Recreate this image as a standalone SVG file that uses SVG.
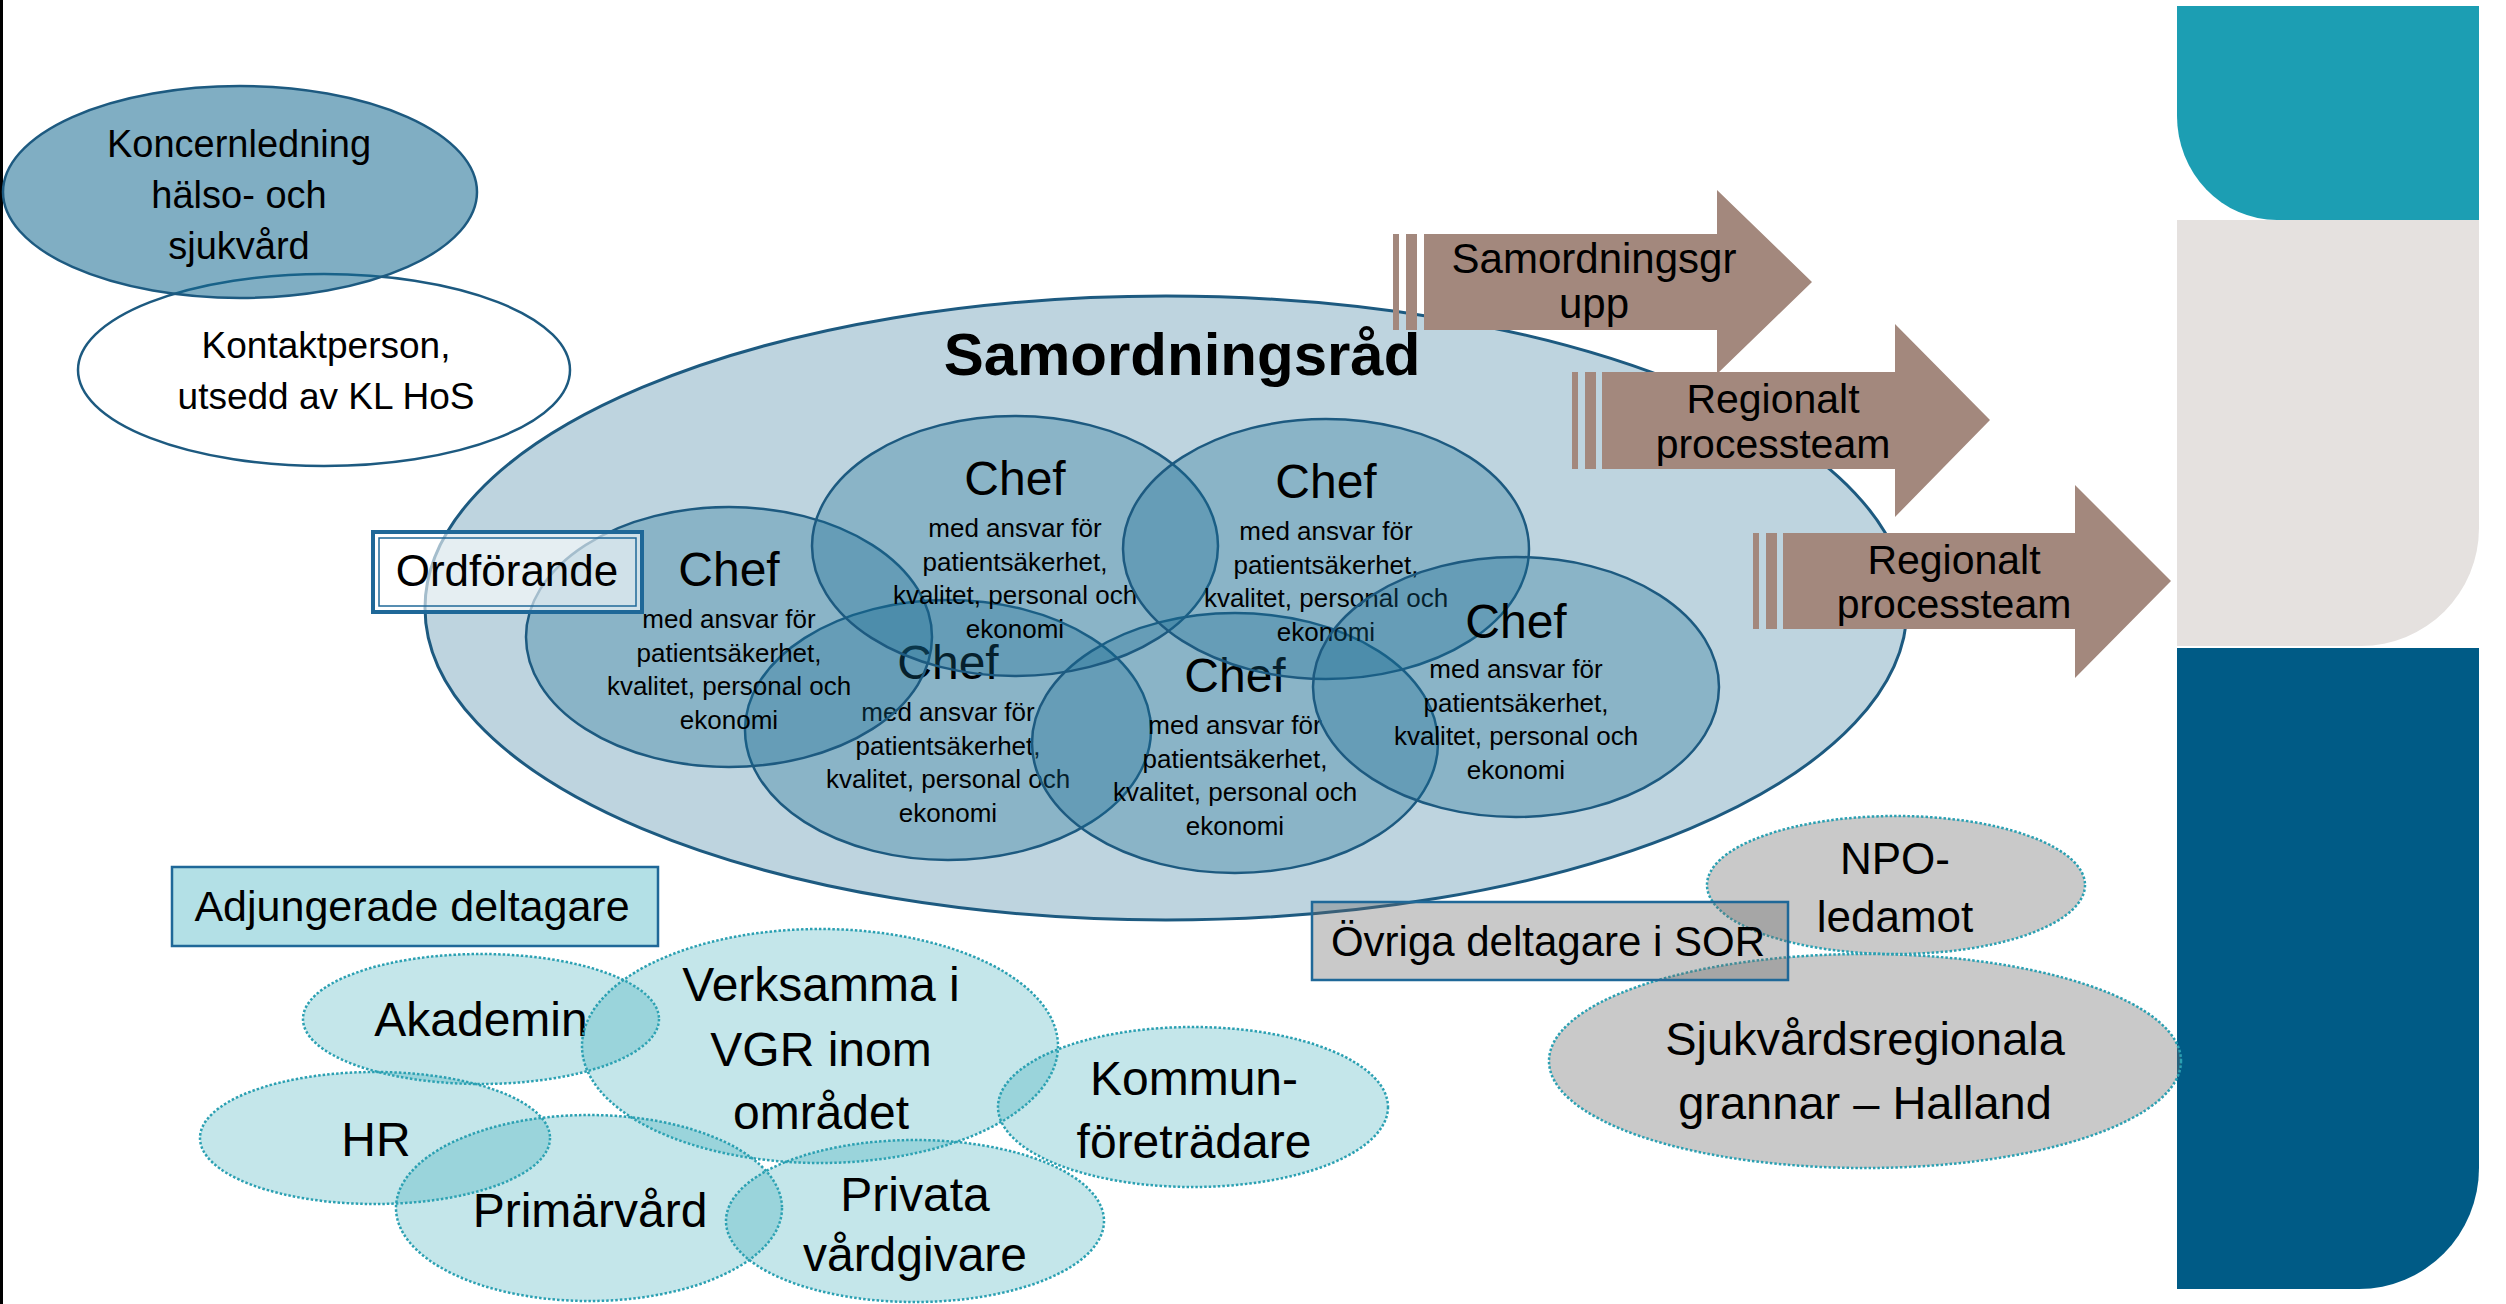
<svg xmlns="http://www.w3.org/2000/svg" width="2506" height="1304" viewBox="0 0 2506 1304">
<style>
.t{font-family:"Liberation Sans",Arial,sans-serif;fill:#000;text-anchor:middle}
.b{font-weight:bold}
.chef{fill:rgb(20,105,145);fill-opacity:.3;stroke:#1D5A80;stroke-width:2.5}
.adj{fill:#32AAB5;fill-opacity:.29;stroke:#2BA0B2;stroke-width:2.5;stroke-dasharray:2.5 2}
.gry{fill:#686868;fill-opacity:.36;stroke:#2BA0B2;stroke-width:2.5;stroke-dasharray:2.5 2}
.arr{fill:#A3887D}
.s26{font-size:26px}
.s48{font-size:48px}
</style>
<rect x="0" y="0" width="2506" height="1304" fill="#fff"/>
<rect x="0" y="0" width="3" height="1304" fill="#000"/>

<g id="side-panel">
<path d="M2177 6 H2479 V220 H2277 A100 104 0 0 1 2177 116 Z" fill="#1C9EB3"/>
<path d="M2177 220 H2479 V528 A118 118 0 0 1 2361 646 H2177 Z" fill="#E5E1DF"/>
<path d="M2177 648 H2479 V1168 A120 121 0 0 1 2359 1289 H2177 Z" fill="#005B86"/>
</g>

<g id="kontaktperson">
<ellipse cx="324" cy="370" rx="246" ry="96" fill="#fff" stroke="#1D5A80" stroke-width="2.5"/>
<text class="t" x="326" y="358" font-size="37">Kontaktperson,</text>
<text class="t" x="326" y="409" font-size="37">utsedd av KL HoS</text>
</g>

<g id="koncernledning">
<ellipse cx="240" cy="192" rx="237" ry="106" fill="rgb(20,105,145)" fill-opacity=".54" stroke="#1D5A80" stroke-width="2.5"/>
<text class="t" x="239" y="157" font-size="38">Koncernledning</text>
<text class="t" x="239" y="208" font-size="38">hälso- och</text>
<text class="t" x="239" y="259" font-size="38">sjukvård</text>
</g>

<g id="samordningsrad">
<ellipse cx="1166" cy="608" rx="741" ry="312" fill="#BED4DF" stroke="#1D5A80" stroke-width="3"/>
<text class="t b" x="1182" y="375" font-size="60">Samordningsråd</text>
</g>

<g id="chef-4">
<ellipse class="chef" cx="948" cy="730" rx="203" ry="130"/>
<text class="t s48" x="948" y="679">Chef</text>
<text class="t s26" x="948" y="721">med ansvar för</text>
<text class="t s26" x="948" y="755">patientsäkerhet,</text>
<text class="t s26" x="948" y="788">kvalitet, personal och</text>
<text class="t s26" x="948" y="822">ekonomi</text>
</g>
<g id="chef-5">
<ellipse class="chef" cx="1235" cy="743" rx="203" ry="130"/>
<text class="t s48" x="1235" y="692">Chef</text>
<text class="t s26" x="1235" y="734">med ansvar för</text>
<text class="t s26" x="1235" y="768">patientsäkerhet,</text>
<text class="t s26" x="1235" y="801">kvalitet, personal och</text>
<text class="t s26" x="1235" y="835">ekonomi</text>
</g>
<g id="chef-1">
<ellipse class="chef" cx="729" cy="637" rx="203" ry="130"/>
<text class="t s48" x="729" y="586">Chef</text>
<text class="t s26" x="729" y="628">med ansvar för</text>
<text class="t s26" x="729" y="662">patientsäkerhet,</text>
<text class="t s26" x="729" y="695">kvalitet, personal och</text>
<text class="t s26" x="729" y="729">ekonomi</text>
</g>
<g id="chef-2">
<ellipse class="chef" cx="1015" cy="546" rx="203" ry="130"/>
<text class="t s48" x="1015" y="495">Chef</text>
<text class="t s26" x="1015" y="537">med ansvar för</text>
<text class="t s26" x="1015" y="571">patientsäkerhet,</text>
<text class="t s26" x="1015" y="604">kvalitet, personal och</text>
<text class="t s26" x="1015" y="638">ekonomi</text>
</g>
<g id="chef-3">
<ellipse class="chef" cx="1326" cy="549" rx="203" ry="130"/>
<text class="t s48" x="1326" y="498">Chef</text>
<text class="t s26" x="1326" y="540">med ansvar för</text>
<text class="t s26" x="1326" y="574">patientsäkerhet,</text>
<text class="t s26" x="1326" y="607">kvalitet, personal och</text>
<text class="t s26" x="1326" y="641">ekonomi</text>
</g>
<g id="chef-6">
<ellipse class="chef" cx="1516" cy="687" rx="203" ry="130"/>
<text class="t s48" x="1516" y="638">Chef</text>
<text class="t s26" x="1516" y="678">med ansvar för</text>
<text class="t s26" x="1516" y="712">patientsäkerhet,</text>
<text class="t s26" x="1516" y="745">kvalitet, personal och</text>
<text class="t s26" x="1516" y="779">ekonomi</text>
</g>

<g id="ordforande">
<rect x="373" y="532" width="269" height="80" fill="#fff" fill-opacity=".6" stroke="#1F6898" stroke-width="4"/>
<rect x="379" y="538" width="257" height="68" fill="none" stroke="#1F6898" stroke-width="1.5"/>
<text class="t" x="507" y="586" font-size="44">Ordförande</text>
</g>

<g id="arrow-samordningsgrupp">
<rect class="arr" x="1393" y="234" width="6" height="96"/>
<rect class="arr" x="1406" y="234" width="11" height="96"/>
<path class="arr" d="M1424 234 H1717 V190 L1812 282 L1717 374 V330 H1424 Z"/>
<text class="t" x="1594" y="273" font-size="42">Samordningsgr</text>
<text class="t" x="1594" y="318" font-size="42">upp</text>
</g>
<g id="arrow-processteam-1">
<rect class="arr" x="1572" y="372" width="6" height="97"/>
<rect class="arr" x="1585" y="372" width="11" height="97"/>
<path class="arr" d="M1602 372 H1895 V324 L1990 420 L1895 517 V469 H1602 Z"/>
<text class="t" x="1773" y="413" font-size="41">Regionalt</text>
<text class="t" x="1773" y="458" font-size="41">processteam</text>
</g>
<g id="arrow-processteam-2">
<rect class="arr" x="1753" y="533" width="6" height="96"/>
<rect class="arr" x="1766" y="533" width="11" height="96"/>
<path class="arr" d="M1783 533 H2075 V485 L2171 581 L2075 678 V629 H1783 Z"/>
<text class="t" x="1954" y="574" font-size="41">Regionalt</text>
<text class="t" x="1954" y="618" font-size="41">processteam</text>
</g>

<g id="adjungerade-deltagare">
<rect x="172" y="867" width="486" height="79" fill="#B3E0E6" stroke="#1F6898" stroke-width="2.5"/>
<text class="t" x="412" y="921" font-size="43">Adjungerade deltagare</text>
</g>
<g id="akademin">
<ellipse class="adj" cx="481" cy="1019" rx="178" ry="65"/>
<text class="t s48" x="481" y="1036">Akademin</text>
</g>
<g id="verksamma">
<ellipse class="adj" cx="820" cy="1046" rx="238" ry="117"/>
<text class="t s48" x="821" y="1001">Verksamma i</text>
<text class="t s48" x="821" y="1066">VGR inom</text>
<text class="t s48" x="821" y="1129">området</text>
</g>
<g id="hr">
<ellipse class="adj" cx="375" cy="1138" rx="175" ry="66"/>
<text class="t s48" x="376" y="1156">HR</text>
</g>
<g id="primarvard">
<ellipse class="adj" cx="589" cy="1208" rx="193" ry="93"/>
<text class="t s48" x="590" y="1227">Primärvård</text>
</g>
<g id="privata">
<ellipse class="adj" cx="915" cy="1221" rx="189" ry="81"/>
<text class="t s48" x="915" y="1211">Privata</text>
<text class="t s48" x="915" y="1271">vårdgivare</text>
</g>
<g id="kommun">
<ellipse class="adj" cx="1193" cy="1107" rx="195" ry="80"/>
<text class="t s48" x="1194" y="1095">Kommun-</text>
<text class="t s48" x="1194" y="1158">företrädare</text>
</g>

<g id="npo">
<ellipse class="gry" cx="1896" cy="885" rx="189" ry="69"/>
<text class="t" x="1895" y="874" font-size="44">NPO-</text>
<text class="t" x="1895" y="932" font-size="44">ledamot</text>
</g>
<g id="sjukvardsregionala">
<ellipse class="gry" cx="1865" cy="1061" rx="316" ry="107"/>
<text class="t" x="1865" y="1055" font-size="47">Sjukvårdsregionala</text>
<text class="t" x="1865" y="1119" font-size="47">grannar – Halland</text>
</g>
<g id="ovriga-deltagare">
<rect x="1312" y="902" width="476" height="78" fill="#686868" fill-opacity=".36" stroke="#1F6898" stroke-width="2.5"/>
<text class="t" x="1548" y="956" font-size="42">Övriga deltagare i SOR</text>
</g>
<g id="connectors"></g>
</svg>
